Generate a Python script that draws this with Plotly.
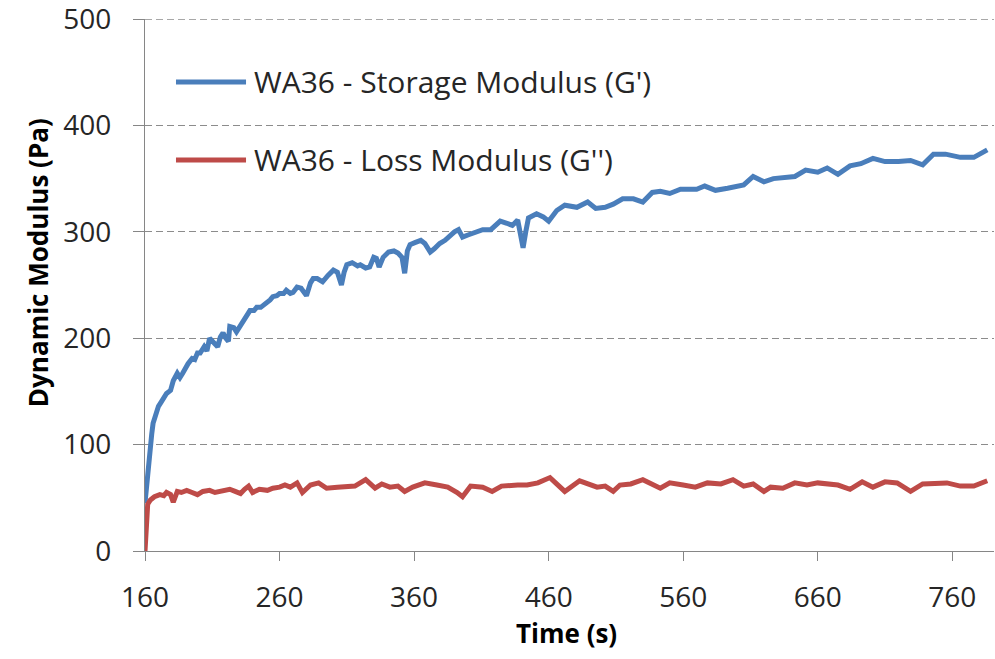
import plotly.graph_objects as go

# ---- data ----
time_storage = [160, 162, 164, 165, 166, 168, 170, 172, 174, 176, 179, 181, 184, 186, 188, 190, 192,
                195, 197, 199, 201, 204, 206, 208, 211, 214, 216, 218, 220, 222, 223, 226, 228, 231,
                234, 236, 238, 241, 243, 246, 248, 251, 253, 255, 258, 260, 263, 265, 268, 270, 273,
                276, 280, 283, 285, 288, 292, 296, 300, 303, 306, 308, 310, 314, 318, 320, 324, 327,
                330, 332, 334, 337, 341, 345, 348, 351, 353, 355, 357, 361, 365, 368, 372, 375, 379,
                383, 387, 390, 393, 396, 400, 404, 411, 417, 420, 424, 429, 433, 437, 439, 441, 443,
                445, 451, 456, 460, 466, 472, 481, 489, 495, 502, 508, 515, 523, 530, 537, 543, 550,
                558, 570, 576, 584, 593, 605, 612, 620, 627, 634, 643, 651, 660, 667, 675, 684, 692,
                701, 710, 720, 729, 738, 746, 755, 766, 776, 786]
storage_modulus = [45, 75, 92, 110, 120, 128, 136, 140, 145, 148, 151, 160, 167, 163, 167, 172, 176,
                   181, 180, 186, 186, 192, 188, 200, 196, 192, 201, 205, 200, 197, 211, 210, 206, 212,
                   216, 222, 226, 226, 229, 229, 231, 233, 236, 239, 240, 242, 242, 245, 242, 243, 248,
                   247, 240, 252, 256, 256, 253, 259, 264, 262, 250, 262, 269, 271, 268, 269, 266, 267,
                   276, 275, 267, 276, 281, 282, 280, 276, 261, 282, 288, 290, 292, 289, 281, 284, 289,
                   292, 297, 300, 302, 295, 297, 299, 302, 302, 306, 310, 308, 306, 311, 300, 285, 300,
                   313, 317, 314, 310, 320, 325, 323, 328, 322, 323, 326, 331, 331, 328, 337, 338, 336,
                   340, 340, 343, 339, 341, 344, 352, 347, 350, 351, 352, 358, 356, 360, 354, 362, 364,
                   369, 366, 366, 367, 363, 373, 373, 370, 370, 377]

time_loss = [160, 161, 162, 164, 167, 171, 174, 176, 179, 181, 184, 187, 191, 195, 199, 203, 208, 212,
             216, 220, 223, 227, 231, 234, 237, 240, 245, 251, 255, 260, 264, 268, 273, 277, 283, 289,
             295, 303, 310, 316, 324, 331, 336, 342, 348, 353, 359, 368, 377, 385, 392, 396, 402, 411,
             418, 425, 437, 444, 452, 461, 472, 483, 496, 502, 508, 513, 521, 530, 543, 550, 560, 569,
             578, 588, 597, 605, 612, 620, 625, 634, 643, 652, 660, 675, 684, 693, 701, 710, 719, 729,
             738, 746, 756, 766, 776, 786]
loss_modulus = [0, 36, 44, 48, 51, 53, 52, 55, 53, 46, 56, 55, 57, 55, 53, 56, 57, 55,
                56, 58, 58, 56, 54, 58, 61, 55, 58, 57, 59, 60, 62, 60, 64, 55, 62, 64,
                59, 60, 61, 61, 67, 59, 63, 60, 61, 56, 60, 64, 62, 60, 55, 51, 61, 60,
                56, 61, 62, 62, 64, 69, 56, 66, 60, 61, 56, 62, 63, 67, 59, 64, 62, 60,
                64, 63, 67, 61, 63, 56, 60, 59, 64, 62, 64, 62, 58, 65, 60, 65, 64, 56,
                63, 63, 64, 61, 61, 66]

series_names = ["WA36 - Storage Modulus (G')", "WA36 - Loss Modulus (G'')"]
x_ticks = [160, 260, 360, 460, 560, 660, 760]
y_ticks = [0, 100, 200, 300, 400, 500]
x_title = "Time (s)"
y_title = "Dynamic Modulus (Pa)"

FONT = "Open Sans, Lato, sans-serif"
BLUE = "#4a7ebb"
RED = "#be4b48"
TEXT = "#262626"
AXIS = "#868686"
GRID = "#8c8c8c"

fig = go.Figure()
fig.add_trace(go.Scatter(x=time_storage, y=storage_modulus, mode="lines", name=series_names[0],
                         showlegend=False,
                         line=dict(color=BLUE, width=5, shape="linear")))
fig.add_trace(go.Scatter(x=time_loss, y=loss_modulus, mode="lines", name=series_names[1],
                         showlegend=False,
                         line=dict(color=RED, width=5, shape="linear")))

# legend drawn as key lines + labels (paper coordinates inside the plot area)
legend_rows = [(series_names[0], BLUE, 0.8816), (series_names[1], RED, 0.735)]
shapes = []
annotations = []
for name, color, ypos in legend_rows:
    shapes.append(dict(type="line", xref="paper", yref="paper", x0=0.0365, x1=0.119,
                       y0=ypos, y1=ypos, line=dict(color=color, width=5)))
    annotations.append(dict(text=name, xref="paper", yref="paper", x=0.126, y=ypos,
                            xanchor="left", yanchor="middle", showarrow=False,
                            font=dict(family=FONT, size=30, color=TEXT)))

# top gridline (at the edge of the value range)
shapes.append(dict(type="line", xref="paper", yref="y", x0=0, x1=1, y0=y_ticks[-1], y1=y_ticks[-1],
                   line=dict(color=GRID, width=1.3, dash="7px,4px"), layer="below"))

annotations.append(dict(text="<b>%s</b>" % y_title, xref="paper", yref="paper",
                        x=0, xshift=-107, y=0.541, xanchor="center", yanchor="middle",
                        textangle=-90, showarrow=False,
                        font=dict(family=FONT, size=26, color="#000000")))
annotations.append(dict(text="<b>%s</b>" % x_title, xref="paper", yref="paper",
                        x=0.497, y=0, yshift=-82, xanchor="center", yanchor="middle",
                        showarrow=False,
                        font=dict(family=FONT, size=26, color="#000000")))

fig.update_layout(
    width=995, height=659,
    margin=dict(l=145, r=1, t=19, b=108, autoexpand=False),
    paper_bgcolor="white", plot_bgcolor="white",
    font=dict(family=FONT, size=28, color=TEXT),
    showlegend=False,
    hovermode=False,
    shapes=shapes,
    annotations=annotations,
)

fig.update_xaxes(
    range=[160, 791], tickmode="array", tickvals=x_ticks,
    ticks="outside", ticklen=9, tickcolor=AXIS, tickwidth=1.3,
    showline=True, linecolor=AXIS, linewidth=1.3,
    showgrid=False, zeroline=False, ticklabelstandoff=12, automargin=False,
    ticklabeloverflow="allow",
    tickfont=dict(family=FONT, size=28, color=TEXT),
)
fig.update_yaxes(
    range=[0, 500], tickmode="array", tickvals=y_ticks,
    ticks="outside", ticklen=11, tickcolor=AXIS, tickwidth=1.3,
    showline=True, linecolor=AXIS, linewidth=1.3,
    showgrid=True, gridcolor=GRID, gridwidth=1.3, griddash="7px,4px",
    zeroline=False, ticklabelstandoff=16, automargin=False,
    ticklabeloverflow="allow",
    tickfont=dict(family=FONT, size=28, color=TEXT),
)

# remove the default 8px page margin so the 995x659 figure fills the view exactly
fig.write_html("out.html", config={"displayModeBar": False},
               post_script="document.body.style.margin='0px';")
